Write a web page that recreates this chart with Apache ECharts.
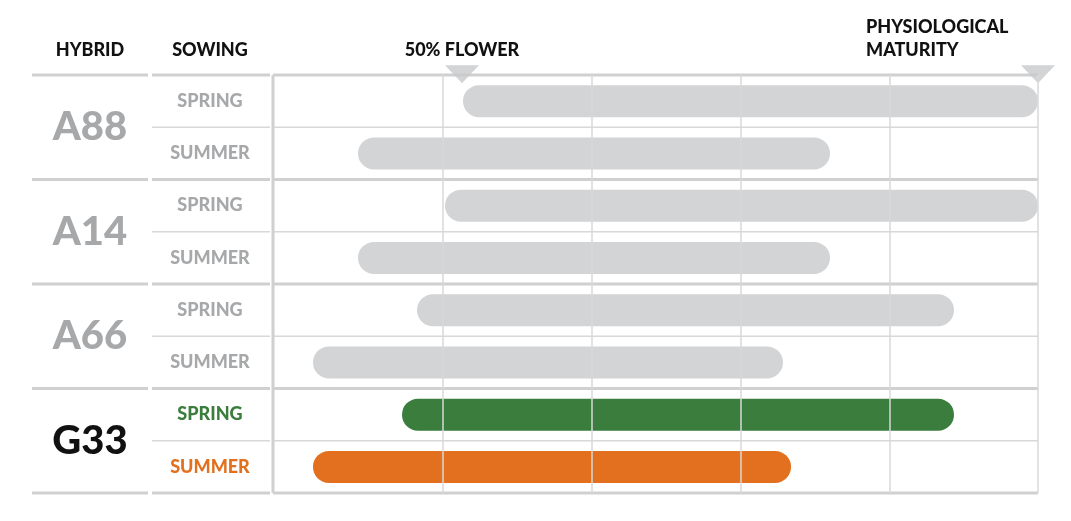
<!DOCTYPE html>
<html><head><meta charset="utf-8">
<script src="https://cdn.jsdelivr.net/npm/echarts@6/dist/echarts.min.js"></script>
<style>html,body{margin:0;padding:0;background:#fff}#c{width:1071px;height:521px}</style>
</head><body><div id="c"></div>
<script>
const hybrids = ['A88','A14','A66','G33'];
const sowings = ['SPRING','SUMMER'];
const rows = ['A88 SPRING','A88 SUMMER','A14 SPRING','A14 SUMMER','A66 SPRING','A66 SUMMER','G33 SPRING','G33 SUMMER'];
// period start/end (chart units)
const starts = [190, 85, 172, 85, 144, 40, 129, 40];
const ends   = [767, 557, 769, 557, 681, 510, 681, 518];
const gridTicks = [170, 319, 468, 617, 765];
const markers = [189, 765];
const gray = '#d3d4d6', green = '#3a7d3c', orange = '#e2701f';
const colors = [gray,gray,gray,gray,gray,gray,green,orange];

(function(){
const chart = echarts.init(document.getElementById('c'));
const F = 'Lato, "Open Sans", sans-serif';
const G = [];
const L = (x1,y1,x2,y2,w,c)=>G.push({type:'line',shape:{x1,y1,x2,y2},style:{stroke:c,lineWidth:w},z:1});
const T = (x,y,t,size,color,align)=>G.push({type:'text',x,y,style:{text:t,font:`900 ${size}px ${F}`,fill:color,align:align||'center',verticalAlign:'middle'},z:5});
T(90,50,'HYBRID',18,'#111'); T(210,50,'SOWING',18,'#111');
T(462,50,'50% FLOWER',18,'#111');
T(866,27,'PHYSIOLOGICAL',18,'#111','left'); T(866,50,'MATURITY',18,'#111','left');
const gTop=75, rh=52.25;
for(let i=0;i<=4;i++){const y=gTop+i*2*rh; L(32,y,148,y,3,'#d0d0d0'); L(152,y,270,y,3,'#d0d0d0'); L(273,y,1038,y,3,'#d0d0d0');}
for(let i=0;i<4;i++){const y=gTop+(i*2+1)*rh; L(152,y,270,y,1.5,'#d8d8d8'); L(273,y,1038,y,1.5,'#d8d8d8');}
L(273,gTop,273,gTop+8*rh,3,'#d0d0d0');
hybrids.forEach((h,i)=>{
  const yc=gTop+(i*2+1)*rh;
  T(90,yc,h,40,i===3?'#111':'#a7a8aa');
  sowings.forEach((s,j)=>{
    const c = i===3 ? (j===0?green:orange) : '#a7a8aa';
    T(210,gTop+(i*2+j+0.5)*rh,s,18,c);
  });
});
chart.setOption({
  animation:false,
  grid:{left:273,right:33,top:gTop,height:8*rh},
  xAxis:{type:'value',min:0,max:765,show:false,splitLine:{show:false}},
  yAxis:{type:'category',data:rows,inverse:true,show:false},
  graphic:G,
  series:[
    {type:'bar',stack:'s',data:starts,itemStyle:{color:'transparent'},barWidth:32,silent:true,
     markLine:{symbol:'none',silent:true,label:{show:false},lineStyle:{color:'#d8d8d8',width:1.5,type:'solid'},
       data:gridTicks.map(v=>({xAxis:v}))},z:0},
    {type:'bar',stack:'s',barWidth:32,
     data:ends.map((e,i)=>({value:e-starts[i],itemStyle:{color:colors[i]}})),
     itemStyle:{borderRadius:16},z:3},
    {type:'scatter',data:markers.map(v=>[v,rows[0]]),symbol:'triangle',symbolRotate:180,symbolSize:[34,18],
     symbolOffset:[0,-27],itemStyle:{color:'#c8c9cb'},z:4}
  ]
});
})();
</script></body></html>
